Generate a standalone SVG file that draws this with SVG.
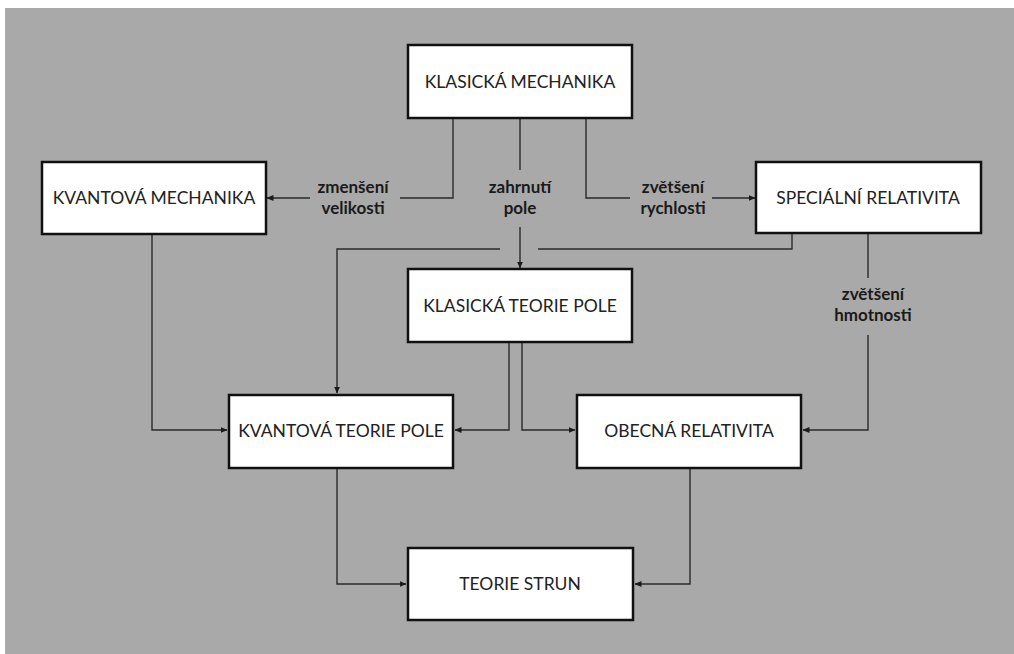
<svg xmlns="http://www.w3.org/2000/svg" width="1014" height="654" viewBox="0 0 1014 654">
<defs>
<marker id="ah" markerWidth="7" markerHeight="6" refX="6.5" refY="3" orient="auto" markerUnits="userSpaceOnUse">
<path d="M0,0 L7,3 L0,6 Z" fill="#1a1a1a"/>
</marker>
</defs>
<style>
.box{fill:#ffffff;stroke:#111111;stroke-width:2.5}
.nt{font-family:Lato,"Open Sans","Liberation Sans",sans-serif;font-size:17.5px;fill:#222222;text-anchor:middle}
.lb{font-family:Lato,"Open Sans","Liberation Sans",sans-serif;font-size:17px;font-weight:bold;fill:#1a1a1a;text-anchor:middle}
.cn{fill:none;stroke:#2a2a2a;stroke-width:1.4}
.ar{marker-end:url(#ah)}
</style>
<rect x="0" y="0" width="1014" height="654" fill="#ffffff"/>
<rect x="5" y="8" width="1009" height="646" fill="#a9a9a9"/>
<g id="connectors">
<path class="cn" d="M453,119 V198 H400"/>
<path class="cn ar" d="M310,198 H267"/>
<path class="cn" d="M520,119 V170"/>
<path class="cn ar" d="M520,227 V268"/>
<path class="cn" d="M586,119 V198 H630"/>
<path class="cn ar" d="M712,198 H755"/>
<path class="cn" d="M792,234 V249 H538"/>
<path class="cn ar" d="M500,249 H337 V393"/>
<path class="cn" d="M868,234 V278"/>
<path class="cn ar" d="M868,335 V430 H803"/>
<path class="cn ar" d="M152,235 V430 H227"/>
<path class="cn ar" d="M509,343 V430 H455"/>
<path class="cn ar" d="M522,343 V430 H575"/>
<path class="cn ar" d="M337,469 V584 H406"/>
<path class="cn ar" d="M690,469 V584 H635"/>
<text class="lb" x="353" y="193">zmenšení</text>
<text class="lb" x="353" y="214">velikosti</text>
<text class="lb" x="520" y="193">zahrnutí</text>
<text class="lb" x="520" y="214">pole</text>
<text class="lb" x="673" y="193">zvětšení</text>
<text class="lb" x="673" y="214">rychlosti</text>
<text class="lb" x="873" y="300">zvětšení</text>
<text class="lb" x="873" y="321">hmotnosti</text>
</g>
<g id="klasicka-mechanika">
<rect class="box" x="408" y="45" width="224" height="73"/>
<text class="nt" x="520" y="88">KLASICKÁ MECHANIKA</text>
</g>
<g id="kvantova-mechanika">
<rect class="box" x="42" y="162" width="224" height="72"/>
<text class="nt" x="154" y="204">KVANTOVÁ MECHANIKA</text>
</g>
<g id="specialni-relativita">
<rect class="box" x="756" y="162" width="225" height="71"/>
<text class="nt" x="868" y="204">SPECIÁLNÍ RELATIVITA</text>
</g>
<g id="klasicka-teorie-pole">
<rect class="box" x="408" y="269" width="224" height="73"/>
<text class="nt" x="520" y="312">KLASICKÁ TEORIE POLE</text>
</g>
<g id="kvantova-teorie-pole">
<rect class="box" x="229" y="395" width="224" height="73"/>
<text class="nt" x="341" y="437">KVANTOVÁ TEORIE POLE</text>
</g>
<g id="obecna-relativita">
<rect class="box" x="577" y="395" width="224" height="73"/>
<text class="nt" x="689" y="437">OBECNÁ RELATIVITA</text>
</g>
<g id="teorie-strun">
<rect class="box" x="408" y="548" width="225" height="72"/>
<text class="nt" x="520" y="590">TEORIE STRUN</text>
</g>
</svg>
